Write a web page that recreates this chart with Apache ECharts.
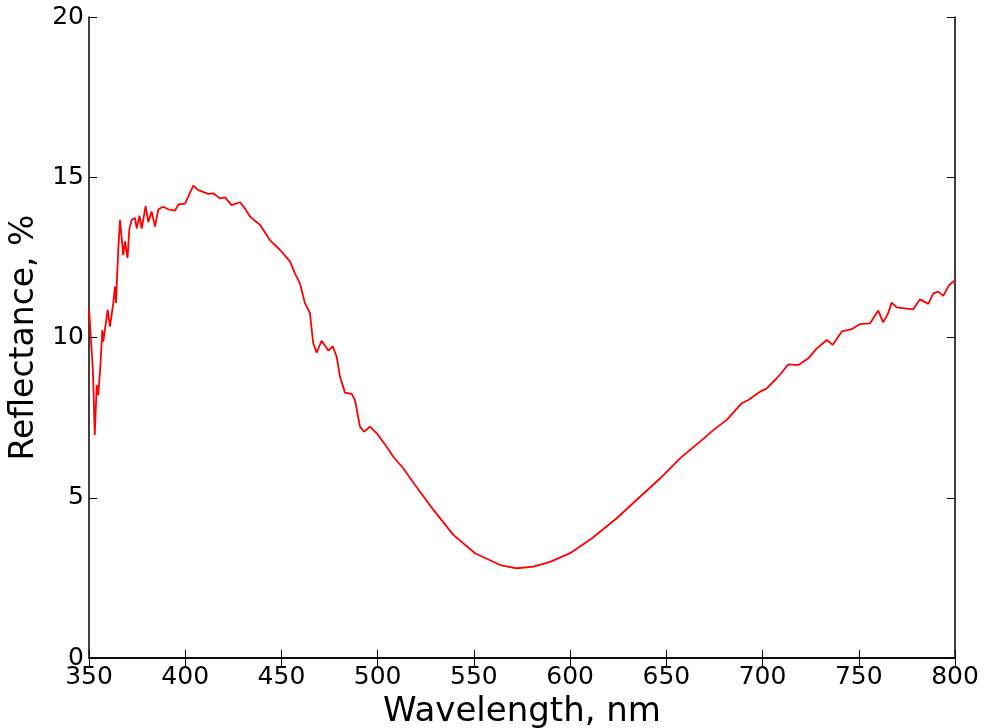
<!DOCTYPE html>
<html>
<head>
<meta charset="utf-8">
<script src="https://cdn.jsdelivr.net/npm/echarts@6/dist/echarts.min.js"></script>
<style>
  html, body { margin: 0; padding: 0; background: #fff; }
  #main { width: 985px; height: 728px; }
</style>
</head>
<body>
<div id="main"></div>
<script>
// wavelength (nm) and reflectance (%)
var wavelength = [
    350, 351, 352, 353, 354, 354.8, 356, 356.9, 357.4, 358.6,
    359.7, 360.9, 362.6, 363.5, 364, 365.2, 366.1, 367.8, 368.7, 370,
    371, 372.2, 373.9, 374.8, 376.2, 377.4, 379.4, 380.8, 382.5, 384.3,
    386, 388.6, 391.2, 394.7, 396.4, 399.9, 404.2, 406.8, 412, 414.6,
    418, 420.7, 424.1, 428.5, 431, 433.7, 438.9, 444, 449.3, 454.5,
    457, 459.6, 462.2, 464.8, 466.5, 468.3, 470.9, 474.4, 476.6, 478.7,
    480.4, 483, 486.5, 488.2, 490.8, 492.9, 496, 499.5, 504.7, 508.1,
    513.3, 519.4, 529, 539.3, 550.6, 563.6, 572.3, 580.9, 589.6, 600,
    611.2, 624.2, 634.5, 646.7, 657.1, 667.5, 674.4, 681.4, 689.2, 692.6,
    698.7, 702.2, 707.4, 713.4, 718.6, 723.8, 728.2, 733.4, 736.5, 741.2,
    746.3, 750.6, 755.8, 760.1, 762.7, 765.3, 767.1, 769.7, 778.3, 781.8,
    786.1, 788.7, 791.3, 793.9, 797, 799.5, 800
];
var reflectance = [
    10.9, 10.86, 9.0, 6.96, 8.52, 8.2, 9.2, 10.23, 9.87, 10.39,
    10.86, 10.34, 11.07, 11.59, 11.08, 12.73, 13.67, 12.57, 13.0, 12.48,
    13.4, 13.67, 13.73, 13.4, 13.8, 13.4, 14.1, 13.6, 13.93, 13.46,
    14.0, 14.08, 14.0, 13.96, 14.15, 14.18, 14.74, 14.6, 14.48, 14.5,
    14.34, 14.37, 14.13, 14.22, 14.03, 13.77, 13.51, 13.04, 12.73, 12.37,
    12.0, 11.69, 11.07, 10.76, 9.82, 9.53, 9.9, 9.59, 9.73, 9.4,
    8.78, 8.28, 8.24, 8.05, 7.22, 7.06, 7.22, 7.01, 6.59, 6.28,
    5.92, 5.4, 4.62, 3.84, 3.27, 2.9, 2.8, 2.85, 3.0, 3.27,
    3.73, 4.36, 4.93, 5.6, 6.23, 6.75, 7.11, 7.43, 7.95, 8.05,
    8.31, 8.41, 8.73, 9.16, 9.14, 9.35, 9.66, 9.92, 9.77, 10.19,
    10.26, 10.42, 10.44, 10.84, 10.47, 10.76, 11.09, 10.94, 10.88, 11.19,
    11.05, 11.38, 11.43, 11.3, 11.64, 11.76, 11.8
];

var chart = echarts.init(document.getElementById('main'));

var points = [];
for (var i = 0; i < wavelength.length; i++) {
    points.push([wavelength[i], reflectance[i]]);
}

var font = 'DejaVu Sans';
var frameLine = { show: true, lineStyle: { color: '#000', width: 1.5 } };
var ticks = { show: true, inside: true, length: 8, lineStyle: { color: '#000', width: 1 } };

option = {
    backgroundColor: '#fff',
    animation: false,
    grid: { left: 89, right: 30, top: 17, bottom: 70, outerBoundsMode: 'none' },
    xAxis: [{
        type: 'value',
        min: 350, max: 800, interval: 50,
        name: 'Wavelength, nm',
        nameLocation: 'middle',
        nameGap: 33,
        nameTextStyle: { fontFamily: font, fontSize: 34, color: '#000' },
        axisLine: frameLine,
        axisTick: ticks,
        axisLabel: { fontFamily: font, fontSize: 25, color: '#000', margin: 7 },
        splitLine: { show: false }
    }, {
        type: 'value',
        position: 'top',
        min: 350, max: 800, interval: 50,
        axisLine: frameLine,
        axisTick: ticks,
        axisLabel: { show: false },
        splitLine: { show: false }
    }],
    yAxis: [{
        type: 'value',
        min: 0, max: 20, interval: 5,
        name: 'Reflectance, %',
        nameLocation: 'middle',
        nameGap: 44,
        nameTextStyle: { fontFamily: font, fontSize: 33, color: '#000' },
        axisLine: frameLine,
        axisTick: ticks,
        axisLabel: { fontFamily: font, fontSize: 25, color: '#000', margin: 5 },
        splitLine: { show: false }
    }, {
        type: 'value',
        position: 'right',
        min: 0, max: 20, interval: 5,
        axisLine: frameLine,
        axisTick: ticks,
        axisLabel: { show: false },
        splitLine: { show: false }
    }],
    series: [{
        type: 'line',
        data: points,
        showSymbol: false,
        lineStyle: { color: '#ff0000', width: 1.8 },
        itemStyle: { color: '#ff0000' }
    }]
};
chart.setOption(option);
</script>
</body>
</html>
